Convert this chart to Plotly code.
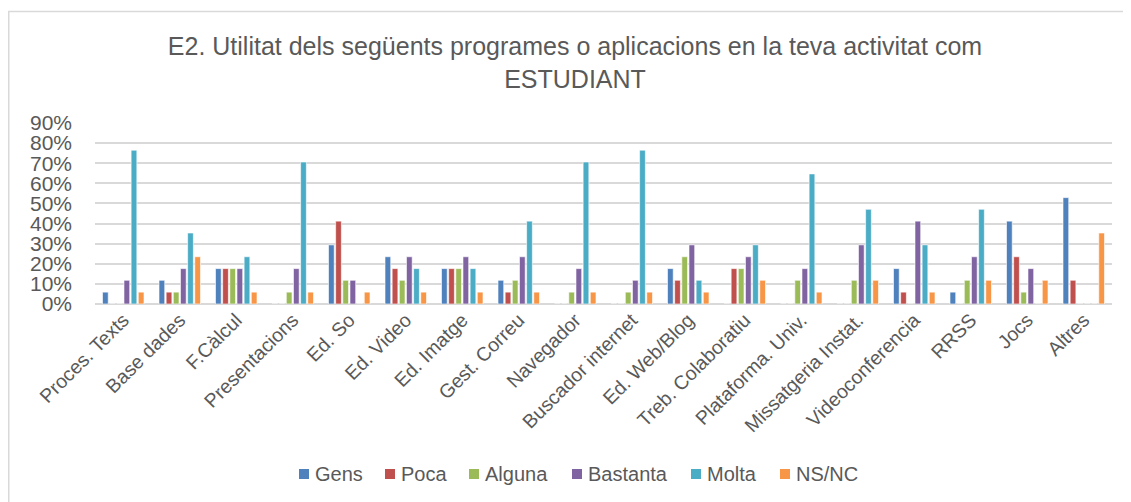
import plotly.graph_objects as go

categories = ["Proces. Texts", "Base dades", "F.Càlcul", "Presentacions", "Ed. So",
              "Ed. Video", "Ed. Imatge", "Gest. Correu", "Navegador", "Buscador internet",
              "Ed. Web/Blog", "Treb. Colaboratiu", "Plataforma. Univ.", "Missatgeria Instat.",
              "Videoconferencia", "RRSS", "Jocs", "Altres"]

gens     = [5.9, 11.8, 17.6, 0, 29.4, 23.5, 17.6, 11.8, 0, 0, 17.6, 0, 0, 0, 17.6, 5.9, 41.2, 52.9]
poca     = [0, 5.9, 17.6, 0, 41.2, 17.6, 17.6, 5.9, 0, 0, 11.8, 17.6, 0, 0, 5.9, 0, 23.5, 11.8]
alguna   = [0, 5.9, 17.6, 5.9, 11.8, 11.8, 17.6, 11.8, 5.9, 5.9, 23.5, 17.6, 11.8, 11.8, 0, 11.8, 5.9, 0]
bastanta = [11.8, 17.6, 17.6, 17.6, 11.8, 23.5, 23.5, 23.5, 17.6, 11.8, 29.4, 23.5, 17.6, 29.4, 41.2, 23.5, 17.6, 0]
molta    = [76.5, 35.3, 23.5, 70.6, 0, 17.6, 17.6, 41.2, 70.6, 76.5, 11.8, 29.4, 64.7, 47.1, 29.4, 47.1, 0, 0]
nsnc     = [5.9, 23.5, 5.9, 5.9, 5.9, 5.9, 5.9, 5.9, 5.9, 5.9, 5.9, 11.8, 5.9, 11.8, 5.9, 11.8, 11.8, 35.3]

series_names = ["Gens", "Poca", "Alguna", "Bastanta", "Molta", "NS/NC"]
series_values = [gens, poca, alguna, bastanta, molta, nsnc]
colors = ["#4F81BD", "#C0504D", "#9BBB59", "#8064A2", "#4BACC6", "#F79646"]

y_ticks = [0, 10, 20, 30, 40, 50, 60, 70, 80, 90]
y_labels = ["0%", "10%", "20%", "30%", "40%", "50%", "60%", "70%", "80%", "90%"]

FONT = "Liberation Sans, Arial, sans-serif"
TEXT = "#595959"

# The page body adds an 8px offset; the figure fills the remaining window.
W, H = 1123, 494
L, R, T, B = 87, 19, 115, 198
PW, PH = W - L - R, H - T - B


def px_x(fx):
    return (fx - L) / PW


def px_y(fy):
    return (H - B - fy) / PH


fig = go.Figure()
for name, vals, col in zip(series_names, series_values, colors):
    fig.add_trace(go.Bar(
        x=categories, y=vals, name=name, showlegend=False,
        marker=dict(color=col, line=dict(color="rgba(255,255,255,0.6)", width=1)),
    ))

# legend drawn as small squares + labels, Excel style
legend_text_x = [306, 392, 476, 579, 698, 787]
legend_y = 466
shapes = [dict(
    type="rect", xref="paper", yref="paper",
    x0=px_x(0.75), x1=px_x(W + 10), y0=px_y(H + 10), y1=px_y(3.5),
    line=dict(color="#D9D9D9", width=1.5), fillcolor="rgba(0,0,0,0)", layer="below",
)]
annotations = []
for name, col, tx in zip(series_names, colors, legend_text_x):
    shapes.append(dict(
        type="rect", xref="paper", yref="paper",
        x0=px_x(tx - 15), x1=px_x(tx - 5), y0=px_y(legend_y + 5), y1=px_y(legend_y - 5),
        line=dict(width=0), fillcolor=col,
    ))
    annotations.append(dict(
        text=name, xref="paper", yref="paper", x=px_x(tx - 1), y=px_y(legend_y),
        xanchor="left", yanchor="middle", showarrow=False,
        font=dict(size=20, color=TEXT, family=FONT),
    ))

fig.update_layout(
    width=W, height=H,
    barmode="group", bargap=0.24, bargroupgap=0.2,
    paper_bgcolor="white", plot_bgcolor="white",
    margin=dict(l=L, r=R, t=T, b=B, autoexpand=False),
    font=dict(family=FONT, color=TEXT),
    showlegend=False,
    title=dict(
        text="E2. Utilitat dels següents programes o aplicacions en la teva activitat com<br>ESTUDIANT",
        x=567 / W, xanchor="center", xref="container",
        y=(H - 47) / H, yanchor="middle", yref="container",
        font=dict(size=25, color=TEXT, family=FONT),
    ),
    xaxis=dict(
        tickangle=-45, tickfont=dict(size=19.5, color=TEXT),
        showgrid=False, showline=False, ticks="", automargin=False,
    ),
    yaxis=dict(
        range=[0, 90], tickvals=y_ticks, ticktext=y_labels,
        tickfont=dict(size=21, color=TEXT),
        showgrid=True, gridcolor="#D9D9D9", gridwidth=1.5,
        zeroline=True, zerolinecolor="#D9D9D9", zerolinewidth=1.5,
        ticks="", ticklabelstandoff=22, automargin=False,
    ),
    shapes=shapes,
    annotations=annotations,
)

fig.write_html("out.html")
